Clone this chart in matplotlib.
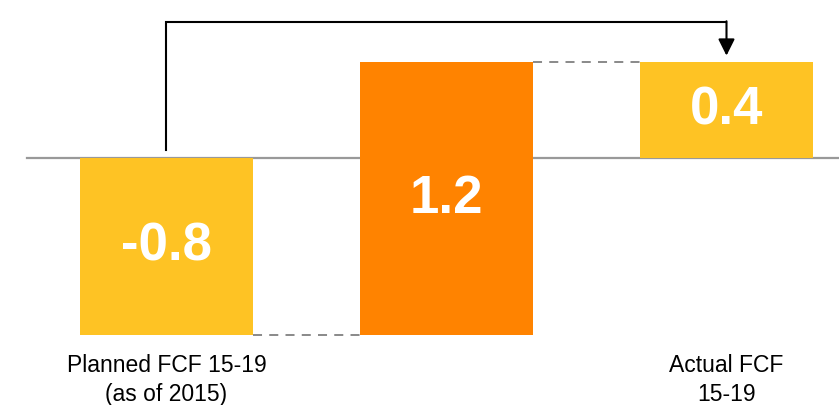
import matplotlib
matplotlib.use("Agg")
import matplotlib.pyplot as plt

plt.rcParams['font.family'] = ['Liberation Sans', 'DejaVu Sans']

# Data
categories = ["Planned FCF 15-19\n(as of 2015)", "", "Actual FCF\n15-19"]
steps = [-0.78, 1.20]          # planned, change
total = sum(steps)             # actual

yellow = '#FEC324'
orange = '#FF8300'

fig = plt.figure(figsize=(8.39, 4.05), dpi=100)
ax = fig.add_axes([0, 0, 1, 1])
ax.set_xlim(-0.5946, 2.4018)
ax.set_ylim(-1.0857, 0.6945)
ax.axis('off')

width = 0.618
bottoms = [0, steps[0], 0]
heights = [steps[0], steps[1], total]
colors = [yellow, orange, yellow]
xs = range(len(heights))

ax.bar(xs, heights, width=width, bottom=bottoms, color=colors, zorder=2)

# zero line (behind bars)
ax.axhline(0, xmin=27 / 839, xmax=1, color='#999999', lw=1.6, zorder=1)

# value labels
for x, b, h in zip(xs, bottoms, heights):
    ax.text(x, b + h / 2, f"{h:.1f}", ha='center', va='center',
            fontsize=38, fontweight='bold', color='white', zorder=4)

# dashed connectors
ends = [steps[0], total]
for i, yv in enumerate(ends):
    ax.plot([i + width / 2, i + 1 - width / 2], [yv, yv],
            color='#808080', lw=1.3, ls=(0, (5, 4)), zorder=1)

# arrow from planned to actual
top = 0.598
ax.plot([0, 0, 2], [0.035, top, top], color='black', lw=1.5,
        solid_joinstyle='miter', zorder=3)
ax.annotate('', xy=(2, total + 0.03), xytext=(2, top + 0.003),
            arrowprops=dict(arrowstyle='-|>,head_length=1.0,head_width=0.5',
                            color='black', lw=1.5, shrinkA=0, shrinkB=0))

# category labels
for x, lab in zip(xs, categories):
    if lab:
        ax.text(x, 0.127, lab, transform=ax.get_xaxis_transform(),
                ha='center', va='top', fontsize=16.5, color='black',
                linespacing=1.35)

plt.savefig('out.png', dpi=100, facecolor='white')
